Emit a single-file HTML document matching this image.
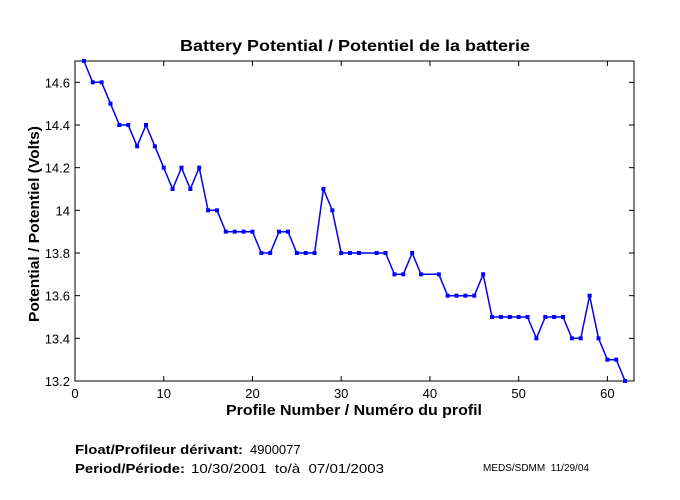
<!DOCTYPE html>
<html><head><style>body{margin:0;background:#fff}svg{display:block}text{font-family:"Liberation Sans",sans-serif;white-space:pre}</style></head><body>
<svg width="680" height="500" xmlns="http://www.w3.org/2000/svg">
<rect x="75" y="61" width="559" height="320" fill="none" stroke="#000" stroke-width="1"/>
<g id="ax" stroke="#000" stroke-width="1"></g>
<g font-size="13" fill="#000" id="lbl"></g>
<text x="180" y="51" font-size="16" font-weight="bold" textLength="350" lengthAdjust="spacingAndGlyphs">Battery Potential / Potentiel de la batterie</text>
<text x="226" y="415" font-size="15" font-weight="bold" textLength="256" lengthAdjust="spacingAndGlyphs">Profile Number / Numéro du profil</text>
<text transform="translate(39,322) rotate(-90)" font-size="15" font-weight="bold" textLength="196" lengthAdjust="spacingAndGlyphs">Potential / Potentiel (Volts)</text>
<text x="75" y="454" font-size="13" font-weight="bold" textLength="168" lengthAdjust="spacingAndGlyphs">Float/Profileur dérivant:</text>
<text x="250" y="454" font-size="13">4900077</text>
<text x="75" y="473" font-size="13" font-weight="bold" textLength="110" lengthAdjust="spacingAndGlyphs">Period/Période:</text>
<text x="191" y="473" font-size="13" textLength="193" lengthAdjust="spacingAndGlyphs">10/30/2001  to/à  07/01/2003</text>
<text x="483" y="471" font-size="10">MEDS/SDMM  11/29/04</text>
<polyline id="pl" fill="none" stroke="#0000ff" stroke-width="1.5"/>
<g id="pts" fill="#0000ff"></g>
</svg>
<script>
var d={1:14.7,2:14.6,3:14.6,4:14.5,5:14.4,6:14.4,7:14.3,8:14.4,9:14.3,10:14.2,11:14.1,12:14.2,13:14.1,14:14.2,15:14.0,16:14.0,17:13.9,18:13.9,19:13.9,20:13.9,21:13.8,22:13.8,23:13.9,24:13.9,25:13.8,26:13.8,27:13.8,28:14.1,29:14.0,30:13.8,31:13.8,32:13.8,34:13.8,35:13.8,36:13.7,37:13.7,38:13.8,39:13.7,41:13.7,42:13.6,43:13.6,44:13.6,45:13.6,46:13.7,47:13.5,48:13.5,49:13.5,50:13.5,51:13.5,52:13.4,53:13.5,54:13.5,55:13.5,56:13.4,57:13.4,58:13.6,59:13.4,60:13.3,61:13.3,62:13.2};
function X(v){return 75+v*559/63}function Y(v){return 381-(v-13.2)*320/1.5}
var ns="http://www.w3.org/2000/svg",p=[],g=document.getElementById('pts');
for(var k in d){var x=X(+k),y=Y(d[k]);p.push(x.toFixed(1)+','+y.toFixed(1));var r=document.createElementNS(ns,'rect');r.setAttribute('x',x-2);r.setAttribute('y',y-2);r.setAttribute('width',4);r.setAttribute('height',4);g.appendChild(r);}
document.getElementById('pl').setAttribute('points',p.join(' '));
var ax=document.getElementById('ax'),lb=document.getElementById('lbl');
function L(x1,y1,x2,y2){var l=document.createElementNS(ns,'line');l.setAttribute('x1',x1);l.setAttribute('y1',y1);l.setAttribute('x2',x2);l.setAttribute('y2',y2);ax.appendChild(l);}
function T(x,y,s,a){var t=document.createElementNS(ns,'text');t.setAttribute('x',x);t.setAttribute('y',y);t.setAttribute('text-anchor',a);t.textContent=s;lb.appendChild(t);}
for(var i=0;i<=60;i+=10){var x=X(i);L(x,381,x,376);L(x,61,x,66);T(x,398,''+i,'middle');}
var ys=['13.2','13.4','13.6','13.8','14','14.2','14.4','14.6'];
ys.forEach(function(s){var y=Y(+s);L(75,y,80,y);L(634,y,629,y);T(70,y+5,s,'end');});
</script>
</body></html>
